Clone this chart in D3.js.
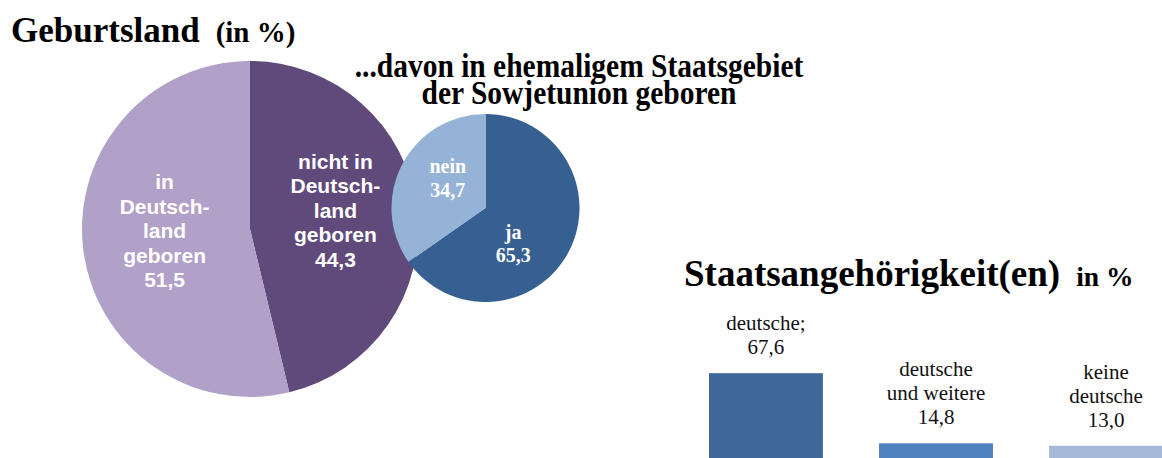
<!DOCTYPE html>
<html>
<head>
<meta charset="utf-8">
<script src="https://cdn.jsdelivr.net/npm/d3@7"></script>
<style>
  body { margin: 0; background: #fff; }
  svg { display: block; }
</style>
</head>
<body>
<div id="chart"></div>
<script>
// Geburtsland (clockwise from 12 o'clock)
var birthCats = ["nicht in Deutschland geboren", "in Deutschland geboren"];
var birthLines = [["nicht in", "Deutsch-", "land", "geboren"], ["in", "Deutsch-", "land", "geboren"]];
var birthValues = [44.3, 51.5];
var birthColors = ["#604a7b", "#b1a0c7"];

// ...davon in ehemaligem Staatsgebiet der Sowjetunion geboren
var ussrCats = ["ja", "nein"];
var ussrValues = [65.3, 34.7];
var ussrColors = ["#376092", "#95b3d7"];

// Staatsangehörigkeit(en)
var citCats = ["deutsche", "deutsche und weitere", "keine deutsche"];
var citLines = [["deutsche;"], ["deutsche", "und weitere"], ["keine", "deutsche"]];
var citValues = [67.6, 14.8, 13.0];
var citColors = ["#3f6899", "#4f81bd", "#a7b9d9"];

var fmt = function(v) { return d3.format(".1f")(v).replace(".", ","); };

var svgWidth = 1162, svgHeight = 458;
var svg = d3.select("#chart").append("svg")
  .attr("width", svgWidth)
  .attr("height", svgHeight);

var serif = "'Liberation Serif', 'Times New Roman', serif";
var sans = "'Liberation Sans', Arial, sans-serif";

// ---- big pie
var pie = d3.pie().sort(null).value(function(d) { return d.value; });
var bigR = 168;
var big = svg.append("g").attr("transform", "translate(250,229)");
var bigArc = d3.arc().innerRadius(0).outerRadius(bigR);
var bigLabelArc = d3.arc().innerRadius(86).outerRadius(86);
var bigData = pie(birthCats.map(function(c, i) {
  return { cat: c, value: birthValues[i], lines: birthLines[i].concat([fmt(birthValues[i])]), color: birthColors[i] };
}));
big.selectAll("path").data(bigData).enter().append("path")
  .attr("d", bigArc)
  .attr("fill", function(d) { return d.data.color; });

var bigLH = 24.5;
big.selectAll("text").data(bigData).enter().append("text")
  .attr("font-family", sans)
  .attr("font-weight", "bold")
  .attr("font-size", 21)
  .attr("fill", "#fff")
  .attr("text-anchor", "middle")
  .each(function(d) {
    var c = bigLabelArc.centroid(d);
    var n = d.data.lines.length;
    var y0 = c[1] - 10 - (n - 1) / 2 * bigLH + 9;
    d3.select(this).selectAll("tspan").data(d.data.lines).enter().append("tspan")
      .attr("x", c[0])
      .attr("y", function(l, i) { return y0 + i * bigLH; })
      .text(function(l) { return l; });
  });

// ---- small pie
var smallR = 94;
var small = svg.append("g").attr("transform", "translate(485.5,208)");
var smallArc = d3.arc().innerRadius(0).outerRadius(smallR);
var smallLabelArc = d3.arc().innerRadius(47).outerRadius(47);
var smallData = pie(ussrCats.map(function(c, i) {
  return { cat: c, value: ussrValues[i], color: ussrColors[i] };
}));
small.selectAll("path").data(smallData).enter().append("path")
  .attr("d", smallArc)
  .attr("fill", function(d) { return d.data.color; });

var smallNudge = { ja: [-14, 14], nein: [4, -8] };
small.selectAll("text").data(smallData).enter().append("text")
  .attr("font-family", serif)
  .attr("font-weight", "bold")
  .attr("font-size", 20)
  .attr("fill", "#fff")
  .attr("text-anchor", "middle")
  .each(function(d) {
    var c = smallLabelArc.centroid(d);
    var nd = smallNudge[d.data.cat];
    var lines = [d.data.cat, fmt(d.data.value)];
    d3.select(this).selectAll("tspan").data(lines).enter().append("tspan")
      .attr("x", c[0] + nd[0])
      .attr("y", function(l, i) { return c[1] + nd[1] - 5 + i * 23.5; })
      .text(function(l) { return l; });
  });

// ---- titles
var t1 = svg.append("text")
  .attr("x", 11).attr("y", 42)
  .attr("font-family", serif).attr("font-weight", "bold");
t1.append("tspan").attr("font-size", 35).text("Geburtsland");
t1.append("tspan").attr("font-size", 29).attr("dx", 16).text("(in %)");

// the subtitle is drawn a bit narrower than its height
svg.append("text")
  .attr("transform", "translate(579,0) scale(0.88,1)")
  .attr("font-family", serif).attr("font-weight", "bold").attr("font-size", 33.5)
  .attr("text-anchor", "middle")
  .selectAll("tspan")
  .data(["...davon in ehemaligem Staatsgebiet", "der Sowjetunion geboren"])
  .enter().append("tspan")
  .attr("x", 0)
  .attr("y", function(d, i) { return 77 + i * 27; })
  .text(function(d) { return d; });

var t3 = svg.append("text")
  .attr("x", 684).attr("y", 286)
  .attr("font-family", serif).attr("font-weight", "bold");
t3.append("tspan").attr("font-size", 37).text("Staatsangehörigkeit(en)");
t3.append("tspan").attr("font-size", 27.5).attr("dx", 16).text("in %");

// ---- bars
var x = d3.scaleBand().domain(citCats).range([709, 1163]).paddingInner(0.33).paddingOuter(0);
var y = d3.scaleLinear().domain([0, 70]).range([463, 370]);

var bars = svg.append("g");
bars.selectAll("rect").data(citCats).enter().append("rect")
  .attr("x", function(d) { return x(d); })
  .attr("y", function(d, i) { return y(citValues[i]); })
  .attr("width", x.bandwidth())
  .attr("height", function(d, i) { return y(0) - y(citValues[i]); })
  .attr("fill", function(d, i) { return citColors[i]; });

var barLH = 24;
bars.selectAll("text").data(citCats).enter().append("text")
  .attr("font-family", serif)
  .attr("font-size", 21)
  .attr("fill", "#111")
  .attr("text-anchor", "middle")
  .each(function(d, i) {
    var lines = citLines[i].concat([fmt(citValues[i])]);
    var yb = y(citValues[i]) - 19;
    var cx = x(d) + x.bandwidth() / 2;
    d3.select(this).selectAll("tspan").data(lines).enter().append("tspan")
      .attr("x", cx)
      .attr("y", function(l, j) { return yb - (lines.length - 1 - j) * barLH; })
      .text(function(l) { return l; });
  });
</script>
</body>
</html>
